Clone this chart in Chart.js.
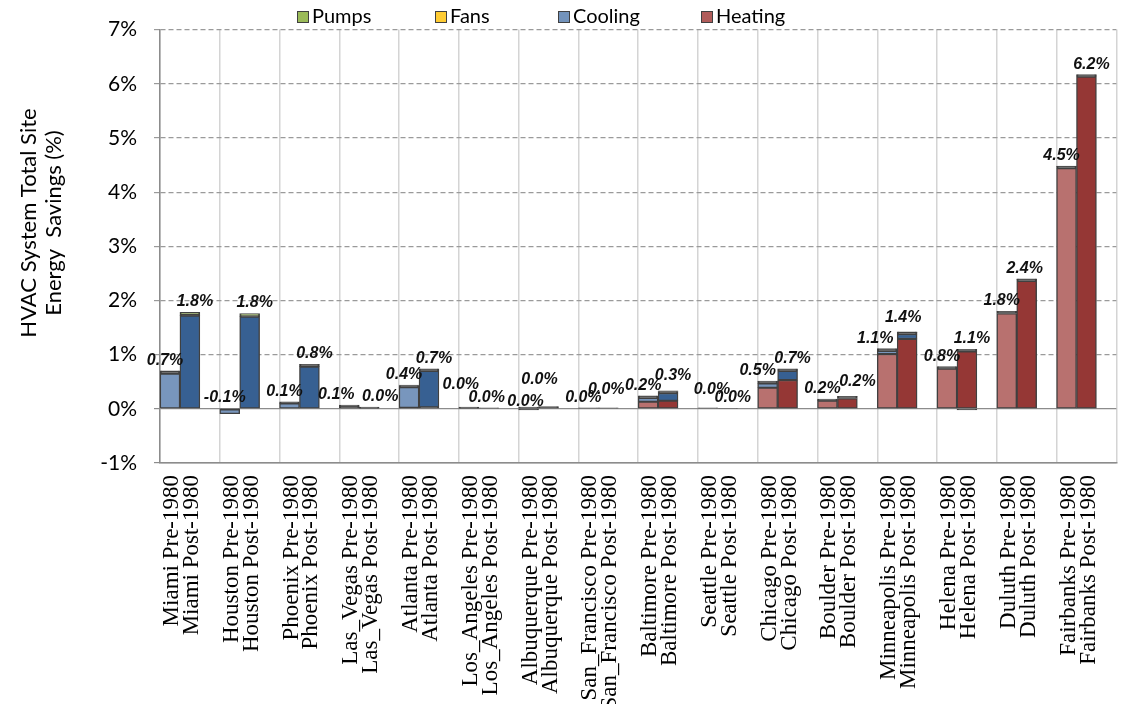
<!DOCTYPE html>
<html>
<head>
<meta charset="utf-8">
<script src="https://cdn.jsdelivr.net/npm/chart.js@4.4.1/dist/chart.umd.min.js"></script>
<style>
  html, body { margin: 0; padding: 0; background: #ffffff; }
  #wrap { width: 1146px; height: 704px; position: relative; }
</style>
</head>
<body>
<div id="wrap"><canvas id="c" width="1146" height="704"></canvas></div>
<script>
// Climate locations, each with a Pre-1980 and Post-1980 building vintage
const cities = ['Miami', 'Houston', 'Phoenix', 'Las_Vegas', 'Atlanta', 'Los_Angeles', 'Albuquerque',
  'San_Francisco', 'Baltimore', 'Seattle', 'Chicago', 'Boulder', 'Minneapolis', 'Helena', 'Duluth', 'Fairbanks'];
const vintages = ['Pre-1980', 'Post-1980'];

// Savings by end use, % of total site energy
const heatingPre  = [0, 0, 0, 0, 0.02, 0, -0.02, 0, 0.13, 0, 0.39, 0.15, 1.01, 0.74, 1.76, 4.44];
const heatingPost = [0, 0, 0, 0, 0.03, 0, 0, 0, 0.15, 0, 0.53, 0.19, 1.29, 1.06, 2.36, 6.13];
const coolingPre  = [0.65, -0.09, 0.10, 0.04, 0.38, 0.01, 0.01, 0, 0.07, 0, 0.08, 0, 0.06, 0, 0, 0];
const coolingPost = [1.72, 1.70, 0.78, 0.01, 0.67, 0, 0, 0, 0.14, 0, 0.17, 0, 0.09, -0.02, 0, 0];
const fansPre     = [0.04, 0.01, 0.03, 0.03, 0.03, 0.02, 0.02, 0.02, 0.03, 0.02, 0.03, 0.03, 0.03, 0.03, 0.03, 0.03];
const fansPost    = [0.01, 0.01, 0.03, 0.02, 0.03, 0.02, 0.03, 0.02, 0.03, 0.01, 0.03, 0.03, 0.03, 0.03, 0.03, 0.03];
const pumpsPre    = [0.01, 0, 0, 0, 0.01, 0, 0, 0, 0.01, 0, 0.01, 0, 0.01, 0.01, 0.01, 0.01];
const pumpsPost   = [0.05, 0.05, 0.01, 0, 0.01, 0, 0.01, 0, 0.01, 0, 0.01, 0.01, 0.01, 0.01, 0.01, 0.01];

const yTickValues = [-1, 0, 1, 2, 3, 4, 5, 6, 7];
const legendOrder = ['Pumps', 'Fans', 'Cooling', 'Heating'];

// Light shade for Pre-1980 bars, dark shade for Post-1980 bars
const palette = {
  Heating: ['#b8716f', '#953735'],
  Cooling: ['#7896bd', '#376092'],
  Fans:    ['#ffd966', '#f2c200'],
  Pumps:   ['#a9c46f', '#8fb14d']
};
const keyColors = { Pumps: '#9bbb59', Fans: '#ffcc33', Cooling: '#7393bb', Heating: '#b05c5a' };
const outline = '#404040';

// Three slots per city: Pre-1980, Post-1980, and an empty spacer
const labels = [];
cities.forEach(c => { labels.push(c + ' ' + vintages[0], c + ' ' + vintages[1], ''); });

function spread(pre, post) {
  const out = [];
  pre.forEach((v, i) => { out.push(v || null, post[i] || null, null); });
  return out;
}

// Segments only a pixel or two tall show as outline only
function segmentFill(name) {
  return (ctx) => {
    const v = ctx.raw;
    const y = ctx.chart.scales.y;
    if (v != null && y && Math.abs(y.getPixelForValue(v) - y.getPixelForValue(0)) < 2.5) return outline;
    return palette[name][ctx.dataIndex % 3 === 1 ? 1 : 0];
  };
}

const series = [
  { name: 'Heating', data: spread(heatingPre, heatingPost) },
  { name: 'Cooling', data: spread(coolingPre, coolingPost) },
  { name: 'Fans',    data: spread(fansPre, fansPost) },
  { name: 'Pumps',   data: spread(pumpsPre, pumpsPost) }
];

const datasets = series.map(s => ({
  label: s.name,
  data: s.data,
  backgroundColor: segmentFill(s.name),
  borderColor: outline,
  borderWidth: 1.4,
  borderSkipped: false,
  barPercentage: 1.0,
  categoryPercentage: 1.0,
  stack: 'hvac'
}));

// Hand placement for total labels that would otherwise collide (pixel offsets)
const labelNudge = {
  'Las_Vegas Pre-1980': [-8, 0],
  'Las_Vegas Post-1980': [6, 0],
  'Los_Angeles Pre-1980': [-3, -12],
  'Los_Angeles Post-1980': [-7, 0],
  'Albuquerque Pre-1980': [2, 5],
  'Albuquerque Post-1980': [-14, -17],
  'San_Francisco Post-1980': [-7, -8],
  'Baltimore Post-1980': [0, -5],
  'Seattle Pre-1980': [9, -8],
  'Chicago Pre-1980': [-5, 0],
  'Boulder Post-1980': [5, -4],
  'Minneapolis Pre-1980': [-7, 0],
  'Minneapolis Post-1980': [-9, -4],
  'Duluth Post-1980': [-7, 0]
};

// Total savings written above each bar
const totalsPlugin = {
  id: 'totals',
  afterDatasetsDraw(chart) {
    const { ctx, scales: { x, y } } = chart;
    ctx.save();
    ctx.font = 'italic bold 16px "Liberation Sans", Arial, sans-serif';
    ctx.fillStyle = '#111111';
    ctx.textAlign = 'center';
    ctx.textBaseline = 'alphabetic';
    labels.forEach((lab, i) => {
      if (i % 3 === 2) return;
      let total = 0, pos = 0;
      chart.data.datasets.forEach(ds => {
        const v = ds.data[i] || 0;
        total += v;
        if (v > 0) pos += v;
      });
      const txt = (Math.abs(total) < 0.05 ? 0 : total).toFixed(1) + '%';
      const [dx, dy] = labelNudge[lab] || [0, 0];
      const cx = x.getPixelForValue(i) + (i % 3 === 0 ? -5 : 5) + dx;
      const top = y.getPixelForValue(pos);
      ctx.fillText(txt, cx, top - 6 + dy);
    });
    ctx.restore();
  }
};

// Legend row along the top edge
const keySlots = [297, 435, 558, 701];
const keyPlugin = {
  id: 'keyRow',
  afterDraw(chart) {
    const ctx = chart.ctx;
    ctx.save();
    ctx.font = '20px Lato, "Open Sans", sans-serif';
    ctx.textBaseline = 'middle';
    ctx.textAlign = 'left';
    const yMid = 17;
    legendOrder.forEach((name, k) => {
      const xPos = keySlots[k];
      ctx.fillStyle = keyColors[name];
      ctx.fillRect(xPos, yMid - 6, 12, 12);
      ctx.strokeStyle = outline;
      ctx.lineWidth = 1;
      ctx.strokeRect(xPos + 0.5, yMid - 5.5, 11, 11);
      ctx.fillStyle = '#000000';
      ctx.fillText(name, xPos + 15, yMid);
    });
    ctx.restore();
  }
};

// Two-line vertical axis title
const yTitlePlugin = {
  id: 'yTitle',
  afterDraw(chart) {
    const ctx = chart.ctx;
    const lines = ['HVAC System Total Site', 'Energy  Savings (%)'];
    ctx.save();
    ctx.font = '22px Lato, "Open Sans", sans-serif';
    ctx.fillStyle = '#000000';
    ctx.textAlign = 'center';
    ctx.textBaseline = 'middle';
    lines.forEach((t, k) => {
      ctx.save();
      ctx.translate(29 + k * 25, 223);
      ctx.rotate(-Math.PI / 2);
      ctx.fillText(t, 0, 0);
      ctx.restore();
    });
    ctx.restore();
  }
};

new Chart(document.getElementById('c'), {
  type: 'bar',
  data: { labels, datasets },
  options: {
    responsive: false,
    animation: false,
    devicePixelRatio: 1,
    layout: { padding: { top: 28, right: 2, left: 0, bottom: 0 } },
    plugins: {
      legend: { display: false },
      tooltip: { enabled: false }
    },
    scales: {
      x: {
        stacked: true,
        afterFit(scale) { scale.height = 241; },
        grid: {
          offset: true,
          drawTicks: false,
          lineWidth: 1.5,
          color(ctx) {
            if (ctx.index === undefined) return '#d4d4d4';
            return ctx.index % 3 === 0 ? '#d4d4d4' : 'rgba(0,0,0,0)';
          }
        },
        border: { display: true, color: '#8c8c8c', width: 1.5 },
        ticks: {
          autoSkip: false,
          minRotation: 90,
          maxRotation: 90,
          padding: 12,
          labelOffset: 2,
          color: '#000000',
          font: { family: '"Liberation Serif", "Times New Roman", serif', size: 23 }
        }
      },
      y: {
        stacked: true,
        min: -1,
        max: 7,
        afterFit(scale) { scale.width = 160; },
        afterBuildTicks(scale) { scale.ticks = yTickValues.map(v => ({ value: v })); },
        grid: {
          lineWidth: 1.2,
          tickLength: 6,
          color(ctx) {
            const v = ctx.tick ? ctx.tick.value : null;
            return (v === 0 || v === -1) ? '#8c8c8c' : '#9a9a9a';
          }
        },
        border: {
          display: true,
          color: '#8c8c8c',
          width: 1.5,
          dash(ctx) {
            const v = ctx.tick ? ctx.tick.value : null;
            return (v === 0 || v === -1) ? [] : [5, 3];
          }
        },
        ticks: {
          padding: 17,
          color: '#000000',
          font: { family: 'Lato, "Open Sans", sans-serif', size: 21 },
          callback: v => v + '%'
        }
      }
    }
  },
  plugins: [totalsPlugin, keyPlugin, yTitlePlugin]
});
</script>
</body>
</html>
